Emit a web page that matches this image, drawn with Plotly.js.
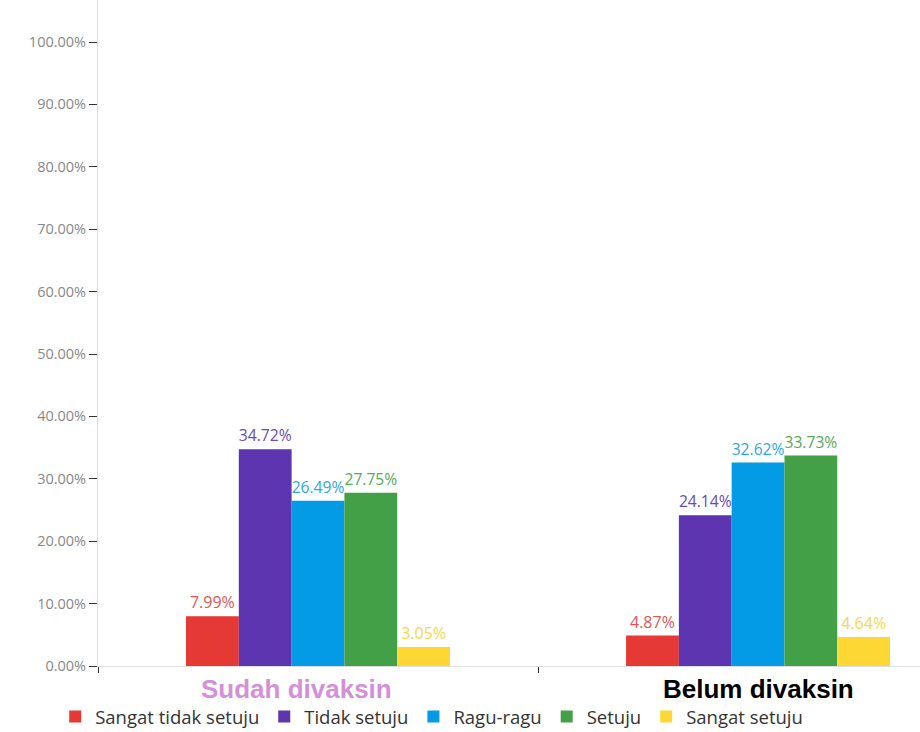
<!DOCTYPE html>
<html><head><meta charset="utf-8">
<script src="https://cdn.plot.ly/plotly-3.0.1.min.js"></script>
<style>html,body{margin:0;padding:0;background:#fff}#chart{width:920px;height:732px}</style>
</head><body><div id="chart"></div>
<script>
const categories = ["Sudah divaksin", "Belum divaksin"];
const seriesNames = ["Sangat tidak setuju", "Tidak setuju", "Ragu-ragu", "Setuju", "Sangat setuju"];
const sangatTidakSetuju = [7.99, 4.87];
const tidakSetuju = [34.72, 24.14];
const raguRagu = [26.49, 32.62];
const setuju = [27.75, 33.73];
const sangatSetuju = [3.05, 4.64];
const yTicks = [0,10,20,30,40,50,60,70,80,90,100];
const yTickText = ["0.00%","10.00%","20.00%","30.00%","40.00%","50.00%","60.00%","70.00%","80.00%","90.00%","100.00%"];
const colors = ["#e53935", "#5e35b1", "#039be5", "#43a047", "#fdd835"];
const labelColors = ["#e25555", "#6a49b8", "#2aa6e6", "#55a957", "#f5d84a"];

const seriesValues = [sangatTidakSetuju, tidakSetuju, raguRagu, setuju, sangatSetuju];
const traces = seriesValues.map((vals, i) => ({
  type: "bar",
  name: seriesNames[i],
  x: categories,
  y: vals,
  marker: {color: colors[i]},
  text: vals.map(v => v.toFixed(2) + "%"),
  textposition: "outside",
  cliponaxis: false,
  textfont: {family: "Open Sans, sans-serif", size: 16, color: labelColors[i]},
  hoverinfo: "skip"
}));

const layout = {
  width: 920, height: 732,
  margin: {l: 98, r: 0, t: 0, b: 66},
  paper_bgcolor: "#fff", plot_bgcolor: "#fff",
  barmode: "group",
  bargap: 0.4,
  bargroupgap: 0,
  showlegend: true,
  legend: {
    orientation: "h",
    xref: "container", x: 0.06, xanchor: "left",
    yref: "container", y: 0.0205, yanchor: "middle",
    font: {family: "Open Sans, sans-serif", size: 18.5, color: "#333"},
    itemwidth: 30, traceorder: "normal"
  },
  xaxis: {
    type: "category",
    range: [-0.5, 1.368],
    showticklabels: false,
    tickson: "boundaries",
    ticks: "outside", ticklen: 6, tickcolor: "#333",
    showline: true, linecolor: "#ddd", linewidth: 1,
    showgrid: false, zeroline: false, fixedrange: true
  },
  yaxis: {
    range: [0, 106.73],
    tickmode: "array",
    tickvals: yTicks,
    ticktext: yTickText,
    ticks: "outside", ticklen: 8, tickcolor: "#333",
    tickfont: {family: "Open Sans, sans-serif", size: 14.5, color: "#888"},
    showline: true, linecolor: "#ddd", linewidth: 1,
    showgrid: false, zeroline: false, automargin: false
  },
  annotations: [
    {x: categories[0], y: 0, xref: "x", yref: "y", yanchor: "top", yshift: -6, xshift: -22, showarrow: false,
     text: "<b>" + categories[0] + "</b>", font: {family: "Liberation Sans, Arial, sans-serif", size: 26, color: "#d48fdc"}},
    {x: categories[1], y: 0, xref: "x", yref: "y", yanchor: "top", yshift: -6, showarrow: false,
     text: "<b>" + categories[1] + "</b>", font: {family: "Liberation Sans, Arial, sans-serif", size: 26, color: "#000"}}
  ]
};
Plotly.newPlot("chart", traces, layout, {displayModeBar: false, staticPlot: true});
</script></body></html>
